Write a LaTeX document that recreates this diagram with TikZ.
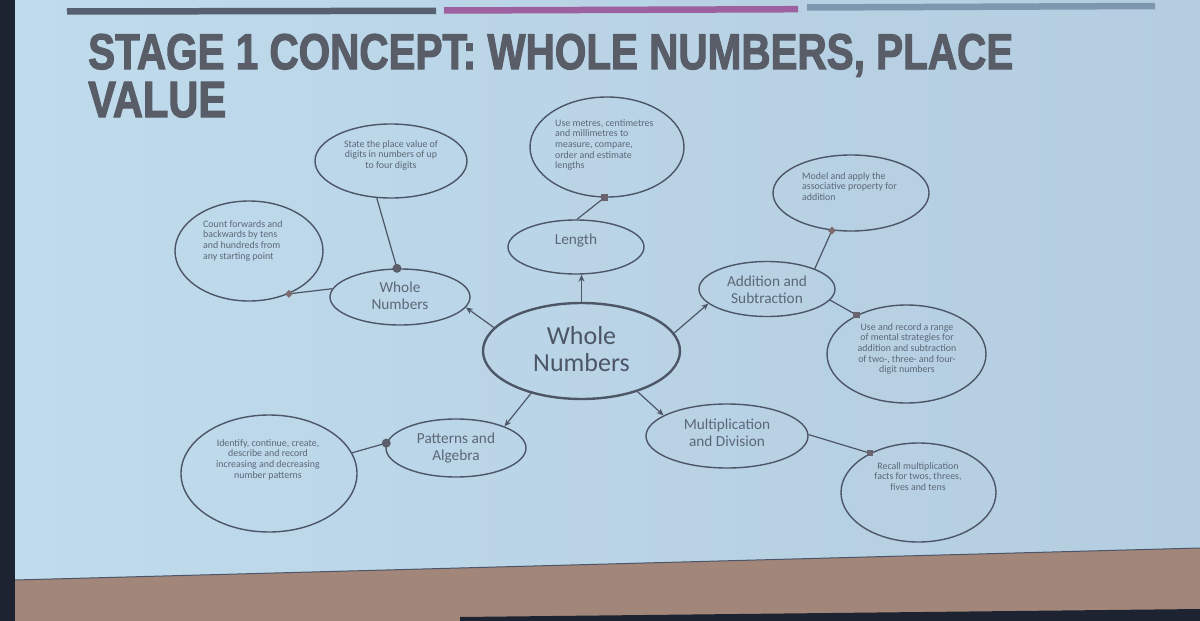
\documentclass[tikz,border=0pt]{standalone}
\usepackage{fontspec}
\setmainfont{Carlito}
\newfontfamily\titlefont[FakeBold=2.5]{Liberation Sans}
\usetikzlibrary{arrows.meta,shapes.geometric}
\definecolor{framec}{HTML}{1D2330}
\definecolor{scrL}{HTML}{BFDBEC}
\definecolor{scrM}{HTML}{C6E6F7}
\definecolor{scrR}{HTML}{B4CDE0}
\definecolor{brownc}{HTML}{A2867A}
\definecolor{titlec}{HTML}{585D68}
\definecolor{bara}{HTML}{566070}
\definecolor{barb}{HTML}{9C619E}
\definecolor{barc}{HTML}{7D97AE}
\definecolor{linec}{HTML}{4C5666}
\definecolor{textc}{HTML}{5C6876}
\definecolor{markc}{HTML}{5B5F6C}
\definecolor{markd}{HTML}{7D6B70}
\definecolor{marks}{HTML}{6A6470}
\begin{document}
\begin{tikzpicture}[x=1pt,y=-1pt,
  bub/.style={ellipse, draw=linec, line width=1.4pt, inner sep=0pt},
  smalltxt/.style={inner sep=0pt, text=textc, font=\fontsize{9.9}{10.7}\selectfont},
  midtxt/.style={inner sep=0pt, text=textc, align=center, anchor=north, font=\fontsize{15.3}{17}\selectfont},
  conn/.style={draw=linec, line width=1.2pt},
  arr/.style={conn, -{Stealth[length=7pt,width=6pt]}},
  dotm/.style={circle, fill=markc, inner sep=0pt, minimum size=9pt},
  diam/.style={diamond, fill=markd, inner sep=0pt, minimum size=8pt},
  sqm/.style={rectangle, fill=marks, inner sep=0pt, minimum size=6.5pt},
  barl/.style={line width=6.5pt}]
\useasboundingbox (0,0) rectangle (1200,621);
% photo frame and screen
\fill[framec] (0,0) rectangle (1200,621);
\shade[left color=scrL, middle color=scrM, right color=scrR] (15,0) -- (1200,0) -- (1200,548) -- (15,580) -- cycle;
\fill[brownc] (15,580) -- (1200,548) -- (1200,621) -- (15,621) -- cycle;
\fill[framec] (460,621) -- (460,617) -- (1200,609) -- (1200,621) -- cycle;
\draw[linec, line width=1pt] (15,580) -- (1200,548);
% top bars
\draw[barl, bara] (67,11.5) -- (436,10.8);
\draw[barl, barb] (444,10.5) -- (798,9.2);
\draw[barl, barc] (807,7.5) -- (1155,6);
% title
\node[anchor=base west, inner sep=0pt, text=titlec] (title1) at (88,69) {\resizebox{925pt}{35pt}{\titlefont\bfseries STAGE 1 CONCEPT: WHOLE NUMBERS, PLACE}};
\node[anchor=base west, inner sep=0pt, text=titlec] (title2) at (88,117) {\resizebox{138pt}{35pt}{\titlefont\bfseries VALUE}};
% ellipses
\node[bub, line width=2.4pt, minimum width=197pt, minimum height=96pt] (c) at (581.5,351) {};
\node[bub, minimum width=140pt, minimum height=56pt] (wn) at (400,297) {};
\node[bub, minimum width=152pt, minimum height=74pt] (st) at (391,161) {};
\node[bub, minimum width=148pt, minimum height=100pt] (cnt) at (249,251) {};
\node[bub, minimum width=136pt, minimum height=54pt] (len) at (576,247) {};
\node[bub, minimum width=154pt, minimum height=100pt] (um) at (607,147) {};
\node[bub, minimum width=136pt, minimum height=55pt] (add) at (767,289) {};
\node[bub, minimum width=156pt, minimum height=76pt] (mod) at (851,193) {};
\node[bub, minimum width=159pt, minimum height=98pt] (ur) at (906.5,354) {};
\node[bub, minimum width=162pt, minimum height=64pt] (mul) at (727,436) {};
\node[bub, minimum width=155pt, minimum height=99pt] (rec) at (918.5,492.5) {};
\node[bub, minimum width=140pt, minimum height=58pt] (pat) at (456,448) {};
\node[bub, minimum width=176pt, minimum height=117pt] (idf) at (269,473.5) {};
% texts
\node[inner sep=0pt, text=linec, align=center, anchor=north, font=\fontsize{26}{27}\selectfont] (ct) at (581.5,326) {Whole\\Numbers};
\node[midtxt] (wnt) at (400,282) {Whole\\Numbers};
\node[midtxt] (lent) at (576,234) {Length};
\node[midtxt] (addt) at (767,276) {Addition and\\Subtraction};
\node[midtxt] (mult) at (727,419) {Multiplication\\and Division};
\node[midtxt] (patt) at (456,433) {Patterns and\\Algebra};
\node[smalltxt, align=center, anchor=north] (stt) at (391,140) {State the place value of\\digits in numbers of up\\to four digits};
\node[smalltxt, align=left, anchor=north west] (cntt) at (203,220) {Count forwards and\\backwards by tens\\and hundreds from\\any starting point};
\node[smalltxt, align=left, anchor=north west] (umt) at (555,119) {Use metres, centimetres\\and millimetres to\\measure, compare,\\order and estimate\\lengths};
\node[smalltxt, align=left, anchor=north west] (modt) at (802,172) {Model and apply the\\associative property for\\addition};
\node[smalltxt, align=center, anchor=north] (urt) at (907,323) {Use and record a range\\of mental strategies for\\addition and subtraction\\of two-, three- and four-\\digit numbers};
\node[smalltxt, align=center, anchor=north] (rect) at (918,462) {Recall multiplication\\facts for twos, threes,\\fives and tens};
\node[smalltxt, align=center, anchor=north] (idft) at (268,439) {Identify, continue, create,\\describe and record\\increasing and decreasing\\number patterns};
% arrows from centre
\draw[arr] (c.165) -- (wn.351);
\draw[arr] (c.90) -- (c.90 |- len.south);
\draw[arr] (c.11) -- (add.194);
\draw[arr] (c.220) -- (pat.24);
\draw[arr] (c.324) -- (mul.162);
% plain connectors with end markers
\draw[conn] (wn.96) -- (st.249);
\draw[conn] (wn.173) -- (cnt.313);
\draw[conn] (len.88) -- (um.267);
\draw[conn] (add.23) -- (mod.243);
\draw[conn] (add.350) -- (ur.142);
\draw[conn] (mul.1) -- (rec.141);
\draw[conn] (pat.176) -- (idf.14);
\node[dotm] (m1) at (wn.96) {};
\node[diam] (m2) at (cnt.313) {};
\node[sqm] (m3) at (um.267) {};
\node[diam] (m4) at (mod.243) {};
\node[sqm] (m5) at (ur.142) {};
\node[sqm] (m6) at (rec.141) {};
\node[dotm] (m7) at (pat.176) {};
\end{tikzpicture}
\end{document}
